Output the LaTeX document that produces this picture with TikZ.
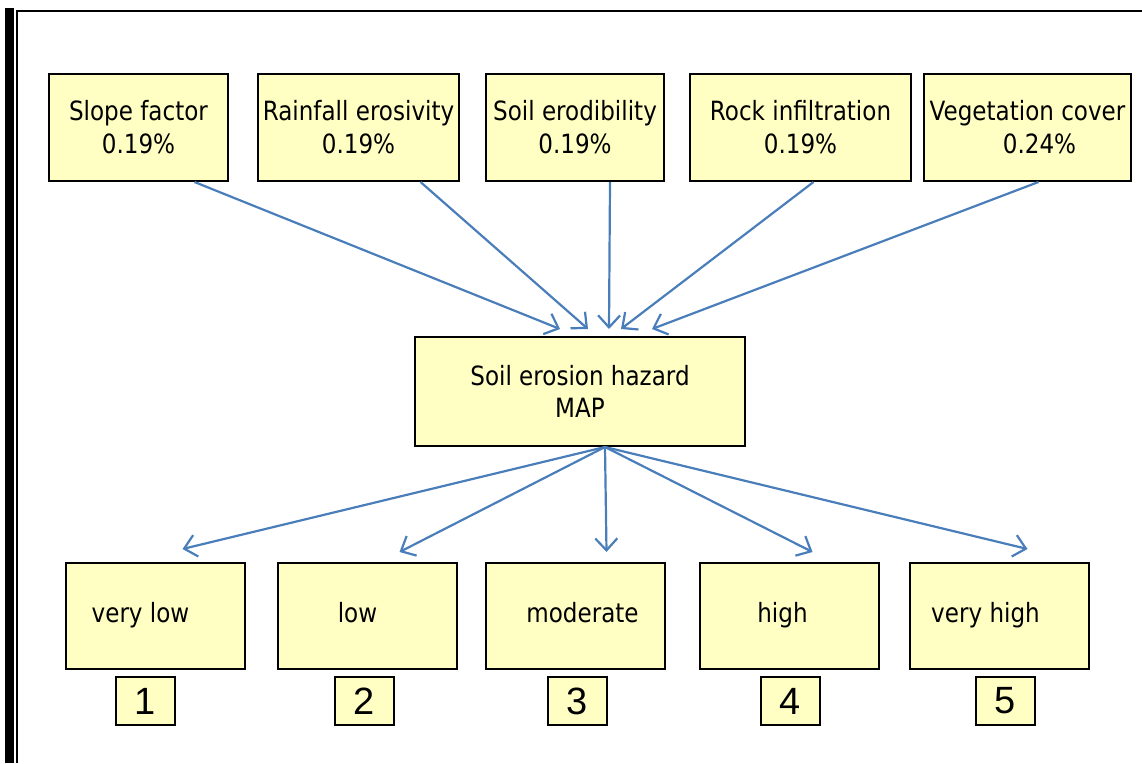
\documentclass[tikz,border=0pt]{standalone}
\usepackage{fontspec}
\setmainfont{DejaVu Sans}[FakeStretch=0.87]
\newfontfamily\numfont{Liberation Sans}
\usetikzlibrary{positioning,arrows.meta}
\definecolor{boxfill}{RGB}{255,255,196}
\definecolor{flowblue}{RGB}{74,126,187}

\begin{document}
\begin{tikzpicture}[x=1pt, y=-1pt,
					factor/.style={rectangle, draw=black!100, line width=2pt, fill=boxfill, align=center, inner sep=0pt, minimum height=107pt, font=\fontsize{26.5}{33}\selectfont},
					class/.style={rectangle, draw=black!100, line width=2pt, fill=boxfill, inner sep=0pt, minimum width=179pt, minimum height=106pt, text height=19pt, text depth=6pt, font=\fontsize{26.5}{33}\selectfont},
					rank/.style={rectangle, draw=black!100, line width=2pt, fill=boxfill, inner sep=0pt, minimum width=59pt, minimum height=48pt, font=\numfont\fontsize{38}{38}\selectfont},
					flow/.style={flowblue, line width=2.2pt, -{Straight Barb[length=12pt, width=22pt]}}
				]
				\useasboundingbox (0,0) rectangle (1142,763);
				\fill[black] (5,8) rectangle (14,763);
				\draw[line width=1.5pt] (17,763) -- (17,11) -- (1142,11);
				\node[factor, minimum width=179pt] (slope) at (138.5,127.5) {Slope factor\\0.19\%};
				\node[factor, minimum width=201pt] (rainfall) [right=28pt of slope] {Rainfall erosivity\\0.19\%};
				\node[factor, minimum width=178pt] (erodibility) [right=25pt of rainfall] {Soil erodibility\\0.19\%};
				\node[factor, minimum width=221pt] (rock) [right=24pt of erodibility] {Rock infiltration\\0.19\%};
				\node[factor, minimum width=207pt] (vegetation) [right=11pt of rock] {Vegetation cover\\\hspace*{24pt}0.24\%};
				\node[factor, minimum width=330pt, minimum height=109pt, font=\fontsize{26.5}{32}\selectfont] (hazard) at (580,391.5) {Soil erosion hazard\\MAP};
				\node[class] (verylow) at (155.5,616) {\hspace*{-30pt}very low};
				\node[class] (low) [right=31pt of verylow] {\hspace*{-20pt}low};
				\node[class] (moderate) [right=27pt of low] {\hspace*{14pt}moderate};
				\node[class] (high) [right=33pt of moderate] {\hspace*{-14pt}high};
				\node[class] (veryhigh) [right=29pt of high] {\hspace*{-28pt}very high};
				\node[rank] (one) [below=6pt of verylow, xshift=-10pt] {1};
				\node[rank] (two) [below=6pt of low, xshift=-3pt] {2};
				\node[rank] (three) [below=6pt of moderate, xshift=2pt] {3};
				\node[rank] (four) [below=6pt of high, xshift=1pt] {4};
				\node[rank] (five) [below=6pt of veryhigh, xshift=6pt] {5};
				\begin{scope}[flow]
				\draw ([xshift=56pt]slope.south) -- ([xshift=-20pt, yshift=7pt]hazard.north);
				\draw ([xshift=62pt]rainfall.south) -- ([xshift=8pt, yshift=7pt]hazard.north);
				\draw ([xshift=35pt]erodibility.south) -- ([xshift=29pt, yshift=7pt]hazard.north);
				\draw ([xshift=13pt]rock.south) -- ([xshift=41pt, yshift=7pt]hazard.north);
				\draw ([xshift=11pt]vegetation.south) -- ([xshift=72pt, yshift=7pt]hazard.north);
				\draw ([xshift=25pt]hazard.south) -- ([xshift=27pt, yshift=13pt]verylow.north);
				\draw ([xshift=25pt]hazard.south) -- ([xshift=32pt, yshift=10pt]low.north);
				\draw ([xshift=25pt]hazard.south) -- ([xshift=31pt, yshift=10pt]moderate.north);
				\draw ([xshift=25pt]hazard.south) -- ([xshift=23pt, yshift=10pt]high.north);
				\draw ([xshift=25pt]hazard.south) -- ([xshift=28pt, yshift=13pt]veryhigh.north);
				\end{scope}
\end{tikzpicture}
\end{document}
